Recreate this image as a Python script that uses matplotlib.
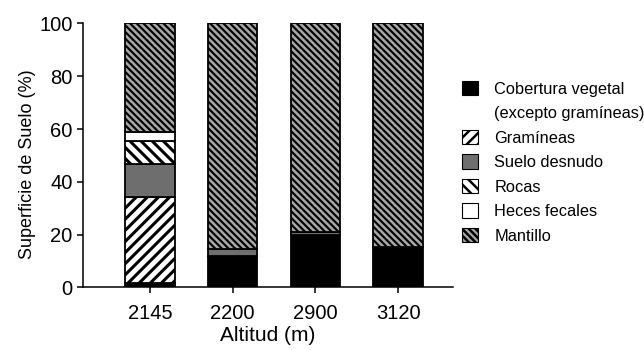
import matplotlib
matplotlib.use("Agg")
import matplotlib.pyplot as plt
from matplotlib.patches import Patch
import numpy as np

plt.rcParams['font.family'] = ['Liberation Sans', 'DejaVu Sans']
plt.rcParams['hatch.linewidth'] = 1.8

altitudes = ["2145", "2200", "2900", "3120"]
cobertura = [1.5, 11.9, 19.7, 15.3]
gramineas = [32.6, 0.0, 0.0, 0.0]
suelo = [12.5, 2.8, 1.3, 0.0]
rocas = [8.8, 0.0, 0.0, 0.0]
heces = [3.4, 0.0, 0.0, 0.0]
mantillo = [41.2, 85.3, 79.0, 84.7]

series = [
    ("Cobertura vegetal", cobertura, dict(facecolor="black", hatch=None, hlw=1.0)),
    ("Gramíneas", gramineas, dict(facecolor="white", hatch="///", hlw=2.2)),
    ("Suelo desnudo", suelo, dict(facecolor="#6e6e6e", hatch=None, hlw=1.0)),
    ("Rocas", rocas, dict(facecolor="white", hatch="\\\\\\", hlw=2.2)),
    ("Heces fecales", heces, dict(facecolor="white", hatch=None, hlw=1.0)),
    ("Mantillo", mantillo, dict(facecolor="#a8a8a8", hatch="\\\\\\\\\\", hlw=1.55)),
]

fig = plt.figure(figsize=(6.44, 3.5), dpi=100)
ax = fig.add_axes([0.129, 0.179, 0.574, 0.754])


def set_hlw(artist, lw):
    if hasattr(artist, "set_hatch_linewidth"):
        artist.set_hatch_linewidth(lw)


x = np.arange(len(altitudes))
bottom = np.zeros(len(altitudes))
handles = []
for name, vals, st in series:
    vals = np.asarray(vals)
    idx = np.nonzero(vals)[0]
    bars = ax.bar(x[idx], vals[idx], width=0.6, bottom=bottom[idx],
                  facecolor=st["facecolor"], edgecolor="black", linewidth=1.3,
                  hatch=st["hatch"])
    for b in bars:
        set_hlw(b, st["hlw"])
    bottom += vals
    h = Patch(facecolor=st["facecolor"], edgecolor="black",
              linewidth=0.8, hatch=st["hatch"], label=name)
    set_hlw(h, min(st["hlw"], 1.2))
    handles.append(h)

# second line of the first label
blank = Patch(facecolor="none", edgecolor="none", label="(excepto gramíneas)")
handles.insert(1, blank)

ax.set_xlim(-0.807, 3.66)
ax.set_ylim(0, 100)
ax.set_xticks(x)
ax.set_xticklabels(altitudes)
ax.set_yticks([0, 20, 40, 60, 80, 100])
ax.spines['top'].set_visible(False)
ax.spines['right'].set_visible(False)
for s in ['left', 'bottom']:
    ax.spines[s].set_linewidth(1.1)
ax.tick_params(axis='both', labelsize=14.5, width=1.1, length=4, direction='out')
ax.tick_params(axis='x', pad=8)
ax.set_xlabel("Altitud (m)", fontsize=15, labelpad=2)
ax.set_ylabel("Superficie de Suelo (%)", fontsize=13)
ax.yaxis.set_label_coords(-0.128, 0.468)

fig.legend(handles=handles, loc="upper left", bbox_to_anchor=(0.699, 0.802),
           frameon=False, fontsize=11.8, handlelength=1.0, handleheight=1.0,
           labelspacing=0.52, handletextpad=1.0, borderpad=0.2)

fig.savefig("out.png", dpi=100)
